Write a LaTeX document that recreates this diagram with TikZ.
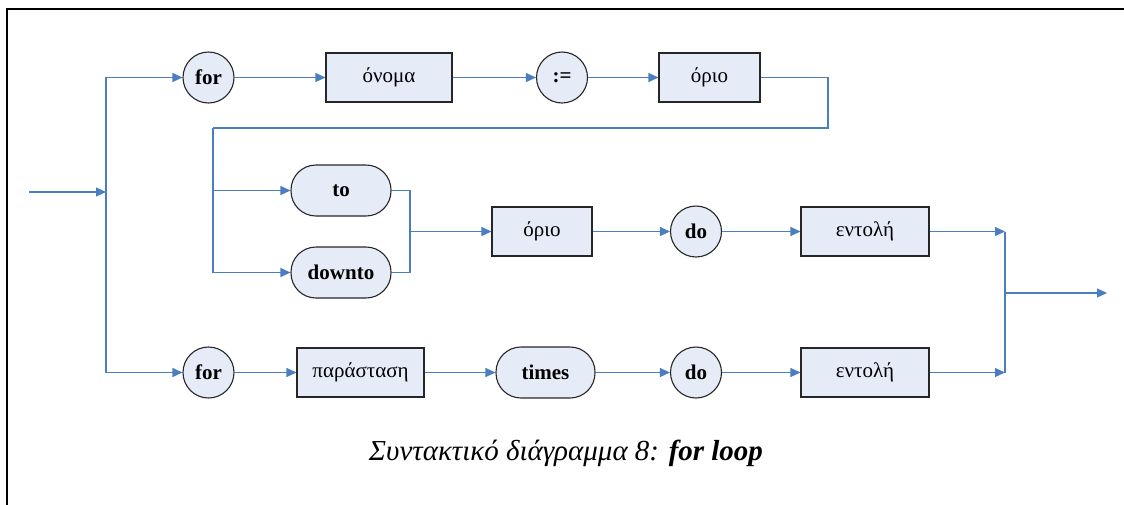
\documentclass[tikz,border=0pt]{standalone}
\usepackage{fontspec}
\setmainfont{Liberation Serif}
\usetikzlibrary{arrows.meta}
\definecolor{lineblue}{RGB}{74,126,193}
\definecolor{boxfill}{RGB}{230,236,247}
\begin{document}
\begin{tikzpicture}[x=1pt,y=-1pt,
  base/.style={draw=black!85,fill=boxfill,line width=1.1pt,inner sep=0pt,font=\fontsize{21}{24}\selectfont},
  term/.style={base,circle,minimum size=51pt,font=\fontsize{21}{24}\selectfont\bfseries},
  pill/.style={base,rectangle,rounded corners=25pt,minimum width=100pt,minimum height=51pt,font=\fontsize{21}{24}\selectfont\bfseries},
  nonterm/.style={base,rectangle,minimum height=49pt},
  conn/.style={draw=lineblue,line width=1.2pt},
  arr/.style={conn,-{Triangle[length=10pt,width=9pt]}},
  frameline/.style={draw=black,line width=2.2pt}
]
\useasboundingbox (0,0) rectangle (1124,504);
\draw[frameline] (7,520) -- (7,9) -- (1130,9);

% top row
\node[term] (for1) at (208.5,77.5) {for};
\node[nonterm,minimum width=126pt] (onoma) at (389,77.5) {όνομα};
\node[term] (assign) at (562,77.5) {:=};
\node[nonterm,minimum width=101pt] (orio1) at (709.5,77.5) {όριο};

% middle rows
\node[pill] (to) at (341,190.5) {to};
\node[pill] (downto) at (341,272.5) {downto};
\node[nonterm,minimum width=100pt] (orio2) at (542,231.5) {όριο};
\node[term] (do1) at (696,231.5) {do};
\node[nonterm,minimum width=128pt] (entoli1) at (865,231.5) {εντολή};

% bottom row
\node[term] (for2) at (208.5,372.5) {for};
\node[nonterm,minimum width=127pt] (paras) at (360.5,372.5) {παράσταση};
\node[pill,minimum width=99pt] (times) at (545.5,372.5) {times};
\node[term] (do2) at (696,372.5) {do};
\node[nonterm,minimum width=128pt] (entoli2) at (865,372.5) {εντολή};

% coordinates
\coordinate (in) at (29,192);
\coordinate (j1) at (106,192);
\coordinate (r1) at (828,128);
\coordinate (l1) at (213,128);
\coordinate (m) at (410,231.5);
\coordinate (e) at (1005,293);
\coordinate (out) at (1107,293);

% connectors
\draw[arr] (in) -- (j1);
\draw[arr] (j1) |- (for1.west);
\draw[arr] (j1) |- (for2.west);
\draw[arr] (for1) -- (onoma);
\draw[arr] (onoma) -- (assign);
\draw[arr] (assign) -- (orio1);
\draw[conn] (orio1.east) -| (r1) -- (l1);
\draw[arr] (l1) |- (to.west);
\draw[arr] (l1) |- (downto.west);
\draw[conn] (to.east) -| (m);
\draw[conn] (downto.east) -| (m);
\draw[arr] (m) -- (orio2.west);
\draw[arr] (orio2) -- (do1);
\draw[arr] (do1) -- (entoli1);
\draw[arr] (entoli1.east) -- (entoli1.east -| e);
\draw[conn] (entoli1.east -| e) -- (entoli2.east -| e);
\draw[arr] (entoli2.east) -- (entoli2.east -| e);
\draw[arr] (e) -- (out);
\draw[arr] (for2) -- (paras);
\draw[arr] (paras) -- (times);
\draw[arr] (times) -- (do2);
\draw[arr] (do2) -- (entoli2);

% caption
\node[font=\fontsize{29}{33}\selectfont\itshape,anchor=base] (cap) at (566,460) {Συντακτικό διάγραμμα 8: \textbf{for loop}};
\end{tikzpicture}
\end{document}
